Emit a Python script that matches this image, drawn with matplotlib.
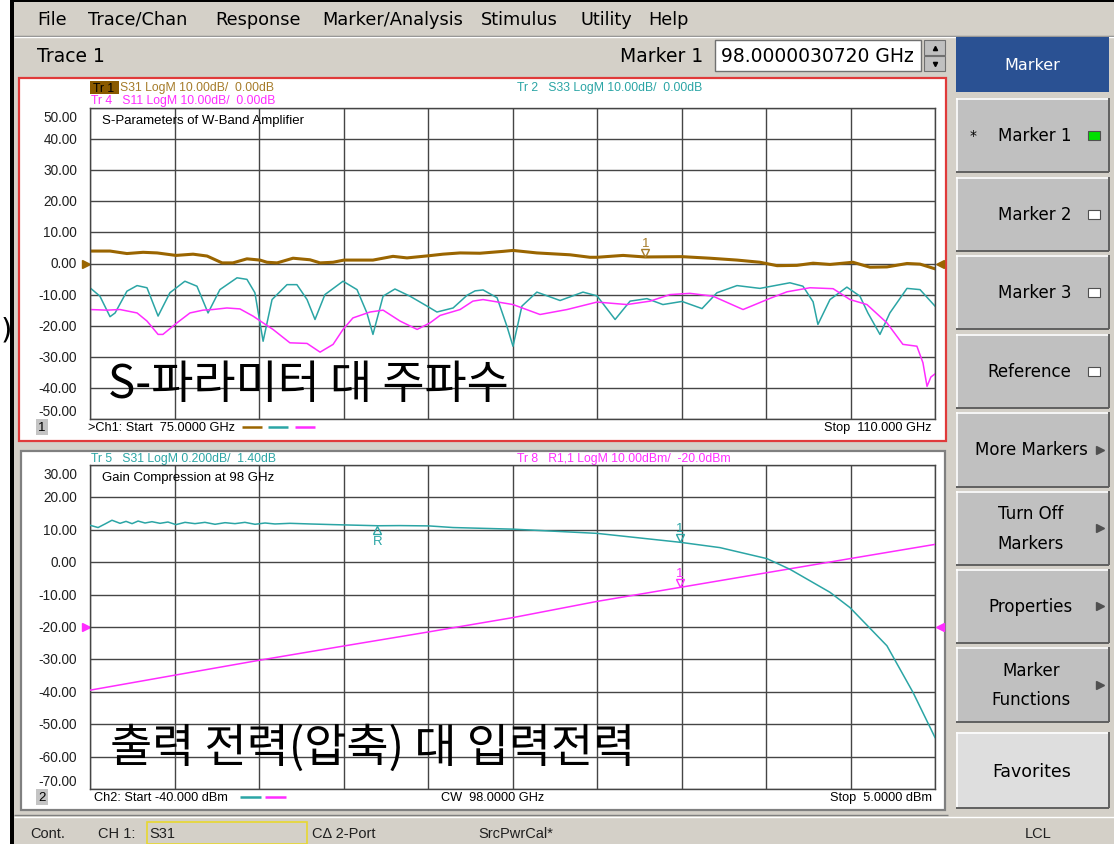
import matplotlib
matplotlib.use("Agg")
import matplotlib.pyplot as plt
from matplotlib.patches import Rectangle
from matplotlib.transforms import blended_transform_factory, offset_copy

# ---- channel 1 : S-parameters of the W-band amplifier (GHz, dB)
s31_freq = [75.00, 75.83, 76.53, 77.20, 77.78, 78.56, 79.27, 79.85, 80.47, 80.92,
            81.50, 82.04, 82.33, 82.75, 83.41, 84.11, 84.53, 85.07, 85.52, 86.72,
            87.55, 88.13, 89.04, 89.62, 90.33, 91.15, 92.11, 92.52, 93.51, 94.88,
            95.71, 96.00, 97.08, 97.99, 99.52, 100.68, 101.80, 102.75, 103.46, 104.28,
            104.95, 105.65, 106.60, 107.31, 108.01, 108.84, 109.38, 110.00]
s31_db = [4.0, 4.0, 3.2, 3.6, 3.4, 2.6, 3.0, 2.4, 0.2, 0.2,
          1.5, 1.1, 0.4, 0.2, 1.7, 1.2, 0.2, 0.4, 1.1, 1.1,
          2.3, 1.8, 2.5, 3.0, 3.4, 3.3, 3.9, 4.2, 3.4, 2.8,
          2.0, 2.0, 2.6, 2.1, 2.2, 1.7, 1.1, 0.4, -0.7, -0.6,
          0.1, -0.3, 0.4, -1.2, -1.1, 0.0, -0.2, -1.7]

s33_freq = [75.00, 75.41, 75.83, 76.04, 76.53, 76.95, 77.36, 77.82, 78.31, 78.93,
            79.43, 79.89, 80.38, 81.09, 81.50, 81.83, 82.17, 82.54, 83.16, 83.57,
            83.99, 84.32, 84.73, 85.48, 86.06, 86.47, 86.72, 87.14, 87.63, 88.25,
            88.96, 89.37, 90.04, 90.62, 90.95, 91.28, 91.86, 92.27, 92.52, 92.89,
            93.51, 94.47, 95.42, 96.00, 96.75, 97.37, 98.07, 98.73, 99.52, 100.35,
            100.97, 101.80, 102.75, 103.99, 104.53, 104.95, 105.15, 105.65, 106.35, 106.89,
            107.22, 107.72, 108.13, 108.84, 109.38, 110.00]
s33_db = [-7.8, -10.5, -17.1, -15.9, -8.9, -7.1, -7.8, -16.9, -9.4, -5.7,
          -7.3, -15.9, -8.4, -4.6, -5.1, -9.4, -25.0, -11.6, -6.8, -6.8,
          -11.6, -18.0, -10.0, -5.7, -8.4, -15.9, -22.8, -10.5, -8.2, -10.5,
          -13.7, -15.6, -14.3, -10.2, -8.8, -8.5, -11.0, -20.2, -26.6, -13.7,
          -9.2, -11.9, -9.2, -10.4, -18.0, -12.1, -11.3, -13.2, -12.2, -14.5,
          -9.4, -7.1, -8.0, -6.2, -7.3, -12.3, -19.6, -11.6, -7.6, -10.5,
          -15.9, -22.8, -15.9, -8.0, -8.4, -13.7]

s11_freq = [75.00, 75.70, 76.24, 76.95, 77.36, 77.82, 78.02, 78.60, 79.14, 79.68,
            80.09, 80.67, 81.21, 81.75, 82.17, 82.58, 83.28, 83.99, 84.53, 85.07,
            85.48, 85.89, 86.60, 87.14, 87.84, 88.55, 89.08, 89.50, 90.33, 90.86,
            91.28, 92.52, 93.64, 94.76, 96.00, 97.24, 98.20, 99.02, 99.85, 100.80,
            102.05, 103.17, 103.87, 104.82, 105.78, 106.48, 107.18, 108.01, 108.67, 109.25,
            109.50, 109.67, 109.83, 110.00]
s11_db = [-14.8, -15.0, -14.8, -15.9, -18.5, -22.8, -22.8, -19.1, -15.9, -15.0,
          -14.8, -14.3, -14.6, -16.9, -19.1, -21.2, -25.5, -25.7, -28.5, -26.0,
          -21.2, -17.5, -15.6, -15.0, -18.5, -21.2, -19.1, -16.7, -14.8, -12.1,
          -11.6, -13.2, -16.4, -14.8, -12.4, -13.2, -12.1, -10.0, -9.6, -10.5,
          -14.8, -11.2, -9.1, -7.8, -8.1, -11.6, -13.2, -19.1, -26.0, -26.6,
          -31.9, -39.5, -36.5, -35.5]

# ---- channel 2 : gain compression at 98 GHz (input dBm)
gain_pin = [-40.00, -39.57, -39.20, -38.83, -38.40, -38.08, -37.76, -37.44, -37.07, -36.70,
            -36.27, -35.85, -35.42, -34.94, -34.41, -33.88, -33.34, -32.81, -32.28, -31.75,
            -31.21, -30.68, -30.15, -29.35, -28.28, -27.06, -24.66, -23.49, -21.95, -20.67,
            -17.48, -13.00, -8.58, -6.45, -3.95, -2.72, -0.59, 0.47, 2.44, 3.83, 5.00]
gain_db = [2.028, 2.014, 2.036, 2.059, 2.040, 2.052, 2.038, 2.054, 2.042, 2.050,
           2.040, 2.048, 2.032, 2.046, 2.038, 2.046, 2.034, 2.044, 2.038, 2.046,
           2.034, 2.042, 2.036, 2.040, 2.036, 2.032, 2.025, 2.026, 2.024, 2.014,
           2.004, 1.978, 1.923, 1.890, 1.822, 1.756, 1.614, 1.520, 1.284, 0.996, 0.718]
pout_pin = [-40.0, -35.42, -30.92, -26.42, -21.95, -17.48, -13.0, -8.59, -4.32, 0.47, 5.0]
pout_dbm = [-39.5, -34.8, -30.2, -25.8, -21.5, -17.1, -12.1, -7.79, -3.6, 1.1, 5.5]

mk1_freq, mk1_db = 98.000003, 2.0623
mk_pin, mk_gain, mk_pout = -8.59, 1.92324, -7.7916
ref_pin, ref_gain = -24.70, 2.0247

BROWN = '#9a6500'
BROWN_TXT = '#a67c2a'
TEAL = '#2ba5a5'
MAG = '#ff2cff'
GRID = '#454545'
GRAY = '#d4d0c8'
BTN = '#c0c0c0'

UI = 'DejaVu Sans'
SM = 'Liberation Sans'
KR = ['Noto Sans CJK KR', 'DejaVu Sans']

W, H = 1114, 845
fig = plt.figure(figsize=(W / 100, H / 100), dpi=100)
fig.patch.set_facecolor('white')

ui = fig.add_axes([0, 0, 1, 1])
ui.set_xlim(0, W)
ui.set_ylim(H, 0)
ui.axis('off')
ui.set_zorder(0)


def box(x0, y0, x1, y1, fc, ec='none', lw=1.0, z=1):
    ui.add_patch(Rectangle((x0, y0), x1 - x0, y1 - y0, facecolor=fc,
                           edgecolor=ec, lw=lw, zorder=z))


def line(xs, ys, c, lw=1.0, z=2):
    ui.plot(xs, ys, color=c, lw=lw, zorder=z, solid_capstyle='butt')


def txt(x, y, s, size=8, c='black', ha='left', family=SM, z=5, **kw):
    ui.text(x, y, s, fontsize=size, color=c, ha=ha, va='center',
            family=family, zorder=z, **kw)


def button(y0, y1, fc=BTN):
    box(956, y0, 1109, y1, fc)
    line([956, 1109], [y0 + 0.5, y0 + 0.5], 'white', 1.2, 3)
    line([956.5, 956.5], [y0, y1], 'white', 1.2, 3)
    line([956, 1109], [y1 - 0.5, y1 - 0.5], '#606060', 1.4, 3)
    line([1108.5, 1108.5], [y0, y1], '#606060', 1.4, 3)


# window chrome
box(14, 3, W, H, GRAY, z=0.5)
box(10, 0, 14, H, 'black', z=1)
box(10, 0, W, 3, 'black', z=1)
txt(1, 331, ')', size=21, family=UI)

menu = [('File', 37), ('Trace/Chan', 88), ('Response', 215), ('Marker/Analysis', 322),
        ('Stimulus', 481), ('Utility', 580), ('Help', 648)]
for name, x in menu:
    txt(x, 20, name, size=12.8, family=UI)
line([14, W], [37, 37], '#808080', 1.0)
line([14, W], [38, 38], 'white', 1.0)

txt(37, 57, 'Trace 1', size=13.5, family=UI)
txt(703, 57, 'Marker 1', size=13.5, family=UI, ha='right')
box(715, 41, 921, 72, 'white', ec='#707070', lw=1.0)
txt(721, 57, '98.0000030720 GHz', size=13.5, family=UI)
box(924, 41, 945, 56, BTN, ec='#707070', lw=0.8)
box(924, 57, 945, 72, BTN, ec='#707070', lw=0.8)
ui.plot([934.5], [48.5], marker='^', ms=3, color='black', zorder=4)
ui.plot([934.5], [65], marker='v', ms=3, color='black', zorder=4)

# measurement panels
box(19, 79, 946, 442, 'white', ec='#e03a3a', lw=1.6, z=1)
box(21, 452, 945, 811, 'white', ec='#808080', lw=1.6, z=1)
line([14, 948], [816, 816], '#808080', 1.0)

# right softkey panel
box(956, 38, 1109, 93, '#2a5193', z=2)
txt(1032, 66, 'Marker', size=11.5, c='white', ha='center', family=UI)
keys = [(99, 173, 'Marker 1'), (178, 252, 'Marker 2'), (256, 330, 'Marker 3'),
        (335, 409, 'Reference'), (413, 488, 'More Markers'), (492, 566, 'Turn Off\nMarkers'),
        (570, 644, 'Properties'), (648, 723, 'Marker\nFunctions')]
for y0, y1, label in keys:
    button(y0, y1)
    ym = (y0 + y1) / 2
    if label.startswith('Marker ') or label == 'Reference':
        txt(1071, ym, label, size=12, family=UI, ha='right')
        fc = '#00e000' if label == 'Marker 1' else 'white'
        box(1088, ym - 4.5, 1100, ym + 4.5, fc, ec='#505050', lw=0.8, z=4)
    else:
        txt(1031, ym, label, size=12, family=UI, ha='center', linespacing=1.8)
        ui.plot([1100], [ym], marker='>', ms=6, color='#505050', zorder=4)
txt(970, 136, '*', size=10, family=UI)
button(733, 809, fc='#dedede')
txt(1032, 772, 'Favorites', size=12.5, family=UI, ha='center')

# status bar
line([14, W], [818, 818], 'white', 1.0)
box(147, 823, 307, 845, 'none', ec='#e8d830', lw=1.2, z=3)
for s, x in [('Cont.', 30), ('CH 1:', 98), ('S31', 149), ('C\u0394 2-Port', 312),
             ('SrcPwrCal*', 478), ('LCL', 1025)]:
    txt(x, 834, s, size=10.5, c='#202020')


def make_axes(x0, y0, x1, y1):
    ax = fig.add_axes([x0 / W, 1 - y1 / H, (x1 - x0) / W, (y1 - y0) / H])
    ax.set_zorder(2)
    ax.set_facecolor('white')
    ax.tick_params(length=0, labelleft=False, labelbottom=False)
    ax.grid(True, color=GRID, lw=1.0)
    for sp in ax.spines.values():
        sp.set_color(GRID)
        sp.set_linewidth(1.0)
    return ax


def y_labels(ax, ticks):
    blend = blended_transform_factory(ax.transAxes, ax.transData)
    for i, v in enumerate(ticks):
        dy = -9 if i == 0 else (8 if i == len(ticks) - 1 else 0)
        tr = offset_copy(blend, fig=fig, x=-13, y=dy, units='dots')
        ax.text(0, v, f'{v:.2f}', transform=tr, ha='right', va='center',
                fontsize=9.8, family=SM, color='#202020', clip_on=False)


def edge_arrow(ax, v, c, side):
    blend = blended_transform_factory(ax.transAxes, ax.transData)
    if side == 'left':
        ax.plot([-0.005], [v], marker='>', ms=6, color=c, transform=blend, clip_on=False)
    else:
        ax.plot([1.006], [v], marker='<', ms=6, color=c, transform=blend, clip_on=False)


def marker_tag(ax, x, y, label, c, down=True):
    if down:
        tri = offset_copy(ax.transData, fig=fig, y=4, units='dots')
        ax.plot([x], [y], marker='v', ms=6, mfc='none', mec=c, mew=1.0, transform=tri)
        lab = offset_copy(ax.transData, fig=fig, y=8, units='dots')
        ax.text(x, y, label, transform=lab, ha='center', va='bottom', fontsize=9.5,
                family=SM, color=c)
    else:
        tri = offset_copy(ax.transData, fig=fig, y=-4, units='dots')
        ax.plot([x], [y], marker='^', ms=6, mfc='none', mec=c, mew=1.0, transform=tri)
        lab = offset_copy(ax.transData, fig=fig, y=-9, units='dots')
        ax.text(x, y, label, transform=lab, ha='center', va='top', fontsize=9.5,
                family=SM, color=c)


# ---- channel 1 plot
ax1 = make_axes(90, 109, 935, 420)
ax1.set_xlim(75, 110)
ax1.set_ylim(-50, 50)
ax1.set_xticks([75 + 3.5 * i for i in range(11)])
ax1.set_yticks(list(range(-50, 51, 10)))
y_labels(ax1, list(range(50, -51, -10)))
ax1.plot(s33_freq, s33_db, color=TEAL, lw=1.1)
ax1.plot(s11_freq, s11_db, color=MAG, lw=1.1)
ax1.plot(s31_freq, s31_db, color=BROWN, lw=2.2)
marker_tag(ax1, mk1_freq, mk1_db, '1', BROWN_TXT)
edge_arrow(ax1, 0, BROWN, 'left')
edge_arrow(ax1, 0, BROWN, 'right')
ax1.text(0.014, 0.96, 'S-Parameters of W-Band Amplifier', transform=ax1.transAxes,
         fontsize=9.5, family=SM, va='center')
ax1.text(0.021, 0.072, 'S-파라미터 대 주파수', transform=ax1.transAxes,
         fontsize=33, family=KR, va='baseline')

box(90, 82, 119, 95, '#8a5a00', z=3)
txt(93, 88.5, 'Tr 1', size=8.8, c='black')
txt(120, 88.5, 'S31 LogM 10.00dB/  0.00dB', size=8.8, c=BROWN_TXT)
txt(91, 101, 'Tr 4   S11 LogM 10.00dB/  0.00dB', size=8.8, c=MAG)
txt(517, 88.5, 'Tr 2   S33 LogM 10.00dB/  0.00dB', size=8.8, c=TEAL)
txt(701, 118, '> 1:', size=9.6, c=BROWN_TXT)
txt(839, 118, f'{mk1_freq:.6f} GHz', size=9.6, c=BROWN_TXT, ha='right')
txt(931, 118, f'{mk1_db:.4f} dB', size=9.6, c=BROWN_TXT, ha='right')
box(36, 420, 48, 436, '#c4c4c4', z=3)
txt(42, 428, '1', size=9.5, ha='center')
txt(88, 428, '>Ch1: Start  75.0000 GHz', size=9.2)
for x0, c in [(242, BROWN), (268, TEAL), (295, MAG)]:
    line([x0, x0 + 20], [428, 428], c, 1.8, 4)
txt(932, 428, 'Stop  110.000 GHz', size=9.2, ha='right')

# ---- channel 2 plot
ax2 = make_axes(90, 466, 935, 790)
ax2.set_xlim(-40, 5)
ax2.set_ylim(-70, 30)
ax2.set_xticks([-40 + 4.5 * i for i in range(11)])
ax2.set_yticks(list(range(-70, 31, 10)))
y_labels(ax2, list(range(30, -71, -10)))
ax2.plot(pout_pin, pout_dbm, color=MAG, lw=1.1, zorder=3)
marker_tag(ax2, mk_pin, mk_pout, '1', MAG)
edge_arrow(ax2, -20, MAG, 'left')
edge_arrow(ax2, -20, MAG, 'right')
ax2.text(0.014, 0.962, 'Gain Compression at 98 GHz', transform=ax2.transAxes,
         fontsize=9.5, family=SM, va='center')
ax2.text(0.024, 0.088, '출력 전력(압축) 대 입력전력', transform=ax2.transAxes,
         fontsize=33, family=KR, va='baseline')

# S31 uses its own 0.2 dB/div scale, 1.40 dB at the -20 reference line
gx = ax2.twinx()
gx.set_ylim(0.4, 2.4)
gx.axis('off')
gx.plot(gain_pin, gain_db, color=TEAL, lw=1.1)
marker_tag(gx, mk_pin, mk_gain, '1', TEAL)
marker_tag(gx, ref_pin, ref_gain, 'R', TEAL, down=False)

txt(91, 459, 'Tr 5   S31 LogM 0.200dB/  1.40dB', size=8.8, c=TEAL)
txt(517, 459, 'Tr 8   R1,1 LogM 10.00dBm/  -20.0dBm', size=8.8, c=MAG)
rows = [(475, '\u0394 1:', 700, '16.1100 dBm', '-0.10146 dB', TEAL),
        (492, 'R:', 709, f'{ref_pin:.4f} dBm', f'{ref_gain:.4f} dB', TEAL),
        (508, '> 1:', 700, f'{mk_pin:.4f} dBm', f'{mk_pout:.4f} dBm', MAG)]
for y, a, xa, b, c2, col in rows:
    txt(xa, y, a, size=9.6, c=col)
    txt(839, y, b, size=9.6, c=col, ha='right')
    txt(931, y, c2, size=9.6, c=col, ha='right')
box(36, 790, 48, 806, '#c4c4c4', z=3)
txt(42, 798, '2', size=9.5, ha='center')
txt(94, 798, 'Ch2: Start -40.000 dBm', size=9.2)
for x0, c in [(240, TEAL), (265, MAG)]:
    line([x0, x0 + 21], [798, 798], c, 1.8, 4)
txt(441, 798, 'CW  98.0000 GHz', size=9.2)
txt(932, 798, 'Stop  5.0000 dBm', size=9.2, ha='right')

fig.savefig('out.png', dpi=100)
